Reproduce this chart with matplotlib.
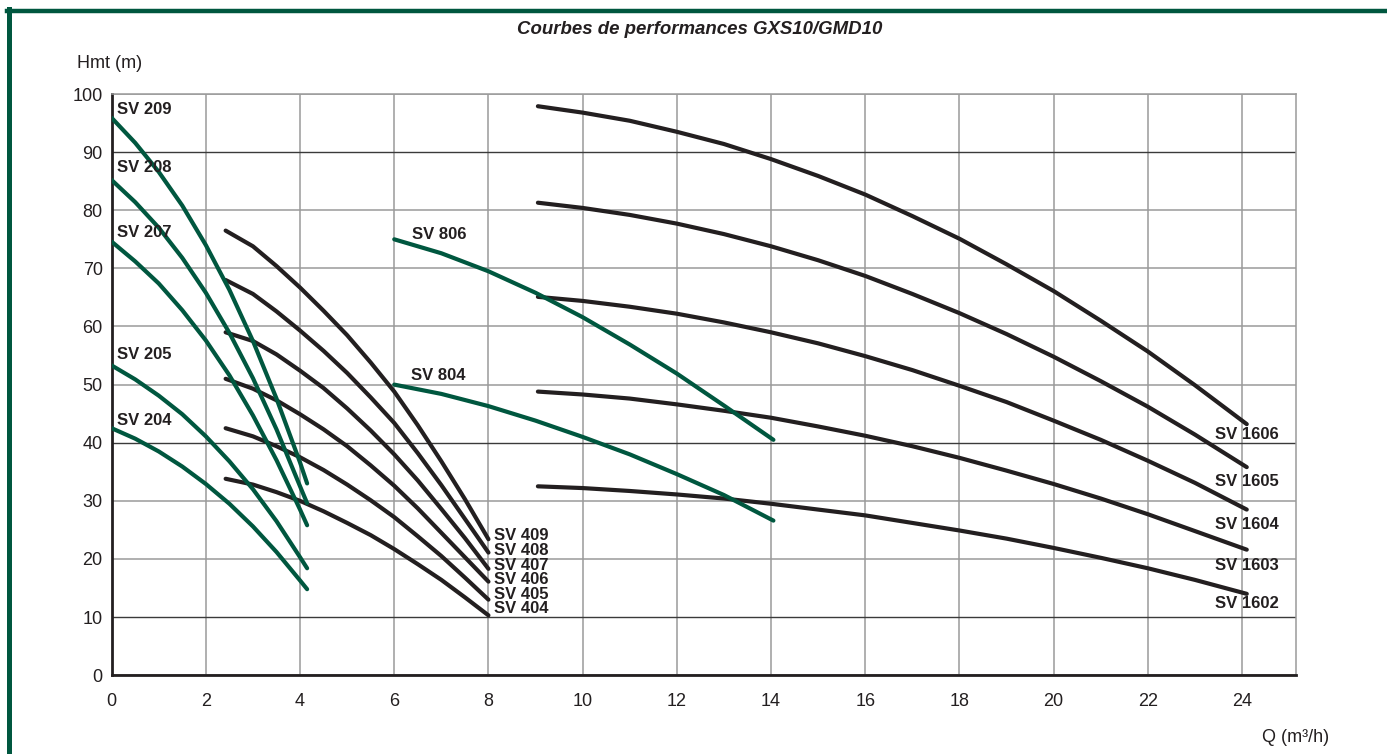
import matplotlib
matplotlib.use("Agg")
import matplotlib.pyplot as plt
from matplotlib.lines import Line2D

plt.rcParams['font.family'] = ['Liberation Sans', 'DejaVu Sans']

GREEN = '#00573f'
BLACK = '#231f20'
GRID = '#9a9a9a'

# --- SV 2xx (green), Q in m3/h, Hmt in m
q_2xx = [0, 0.5, 1, 1.5, 2, 2.5, 3, 3.5, 4, 4.15]
h_sv209 = [95.9, 91.6, 86.6, 80.8, 74.0, 66.3, 57.5, 47.6, 36.6, 33.0]
h_sv208 = [85.2, 81.4, 77.0, 71.8, 65.8, 58.9, 51.1, 42.3, 32.5, 29.6]
h_sv207 = [74.6, 71.2, 67.4, 62.8, 57.6, 51.6, 44.7, 37.0, 28.5, 25.8]
h_sv205 = [53.3, 50.9, 48.1, 44.9, 41.1, 36.8, 32.0, 26.5, 20.3, 18.4]
h_sv204 = [42.5, 40.7, 38.5, 35.9, 32.9, 29.5, 25.6, 21.2, 16.3, 14.8]

# --- SV 4xx (black)
q_4xx = [2.42, 3, 3.5, 4, 4.5, 5, 5.5, 6, 6.5, 7, 7.5, 8]
h_sv409 = [76.5, 73.8, 70.4, 66.7, 62.7, 58.5, 53.8, 48.8, 43.0, 36.8, 30.3, 23.4]
h_sv408 = [68.0, 65.6, 62.6, 59.3, 55.8, 52.0, 47.8, 43.4, 38.2, 32.7, 26.9, 21.1]
h_sv407 = [59.0, 57.5, 55.2, 52.4, 49.4, 45.9, 42.1, 38.0, 33.5, 28.6, 23.6, 18.3]
h_sv406 = [51.0, 49.3, 47.3, 44.9, 42.3, 39.4, 36.1, 32.6, 28.7, 24.5, 20.3, 16.1]
h_sv405 = [42.5, 41.1, 39.4, 37.5, 35.3, 32.8, 30.1, 27.2, 23.9, 20.5, 16.8, 13.0]
h_sv404 = [33.8, 32.8, 31.5, 30.0, 28.2, 26.2, 24.1, 21.7, 19.1, 16.4, 13.4, 10.3]

# --- SV 8xx (green)
q_8xx = [6, 7, 8, 9, 10, 11, 12, 13, 14.05]
h_sv806 = [75.0, 72.6, 69.5, 65.8, 61.6, 56.9, 51.9, 46.4, 40.5]
h_sv804 = [50.0, 48.4, 46.3, 43.8, 41.0, 38.0, 34.6, 31.0, 26.6]

# --- SV 16xx (black)
q_16xx = [9.05, 10, 11, 12, 13, 14, 15, 16, 17, 18, 19, 20, 21, 22, 23, 24.1]
h_sv1606 = [97.9, 96.8, 95.4, 93.5, 91.4, 88.8, 85.9, 82.7, 79.0, 75.1, 70.7, 66.1, 61.0, 55.7, 49.9, 43.2]
h_sv1605 = [81.3, 80.4, 79.2, 77.7, 75.9, 73.8, 71.4, 68.7, 65.6, 62.3, 58.7, 54.8, 50.6, 46.2, 41.4, 35.8]
h_sv1604 = [65.1, 64.4, 63.4, 62.2, 60.7, 59.0, 57.1, 54.9, 52.5, 49.8, 47.0, 43.8, 40.5, 36.9, 33.1, 28.5]
h_sv1603 = [48.8, 48.3, 47.6, 46.6, 45.5, 44.3, 42.8, 41.2, 39.4, 37.4, 35.2, 32.9, 30.4, 27.7, 24.8, 21.6]
h_sv1602 = [32.5, 32.2, 31.7, 31.1, 30.4, 29.5, 28.5, 27.5, 26.2, 24.9, 23.5, 21.9, 20.2, 18.4, 16.4, 14.0]

# curve labels: text, x, y
labels_2xx = [('SV 209', 0.12, 97.3), ('SV 208', 0.12, 87.3), ('SV 207', 0.12, 76.2),
              ('SV 205', 0.12, 55.2), ('SV 204', 0.12, 43.9)]
labels_8xx = [('SV 806', 6.38, 75.8), ('SV 804', 6.35, 51.5)]
labels_4xx = [('SV 409', 8.12, 24.0), ('SV 408', 8.12, 21.4), ('SV 407', 8.12, 18.8),
              ('SV 406', 8.12, 16.4), ('SV 405', 8.12, 13.9), ('SV 404', 8.12, 11.4)]
labels_16xx = [('SV 1606', 23.43, 41.5), ('SV 1605', 23.43, 33.4), ('SV 1604', 23.43, 26.0),
               ('SV 1603', 23.43, 18.8), ('SV 1602', 23.43, 12.3)]

x_ticks = list(range(0, 25, 2))
y_ticks = list(range(0, 101, 10))

fig = plt.figure(figsize=(13.87, 7.54), dpi=100)
ax = fig.add_axes([0.0805, 0.1045, 0.8537, 0.7708])
ax.set_xlim(0, 25.14)
ax.set_ylim(0, 100)
ax.set_xticks(x_ticks)
ax.set_yticks(y_ticks)
ax.tick_params(length=0, labelsize=13, colors=BLACK)
ax.tick_params(axis='x', pad=13)
ax.tick_params(axis='y', pad=6.5)

ax.grid(True, color=GRID, lw=1.1)
ax.set_axisbelow(True)
for v, gl in zip(y_ticks, ax.yaxis.get_gridlines()):
    if v in (10, 40, 90):
        gl.set_color('#3a3a3a')
        gl.set_linewidth(1.0)

for s in ('top', 'right'):
    ax.spines[s].set_color(GRID)
    ax.spines[s].set_linewidth(1.1)
for s in ('left', 'bottom'):
    ax.spines[s].set_color(BLACK)
    ax.spines[s].set_linewidth(2)

lw = 3.0
for h in [h_sv409, h_sv408, h_sv407, h_sv406, h_sv405, h_sv404]:
    ax.plot(q_4xx, h, color=BLACK, lw=lw, solid_capstyle='round', zorder=3)
for h in [h_sv1606, h_sv1605, h_sv1604, h_sv1603, h_sv1602]:
    ax.plot(q_16xx, h, color=BLACK, lw=lw, solid_capstyle='round', zorder=3)
for h in [h_sv204, h_sv205, h_sv207, h_sv208, h_sv209]:
    ax.plot(q_2xx, h, color=GREEN, lw=lw, solid_capstyle='round', zorder=4)
for h in [h_sv804, h_sv806]:
    ax.plot(q_8xx, h, color=GREEN, lw=lw, solid_capstyle='round', zorder=4)

for txt, x, y in labels_2xx + labels_8xx + labels_4xx + labels_16xx:
    ax.text(x, y, txt, fontsize=12, fontweight='bold', color=BLACK,
            ha='left', va='center', zorder=5)

fig.text(0.5045, 1 - 30 / 754, 'Courbes de performances GXS10/GMD10',
         fontsize=13.4, fontweight='bold', fontstyle='italic', color=BLACK,
         ha='center', va='center')
fig.text(77 / 1387, 1 - 64 / 754, 'Hmt (m)', fontsize=13, color=BLACK,
         ha='left', va='center')
fig.text(1262 / 1387, 1 - 737 / 754, 'Q (m³/h)', fontsize=13, color=BLACK,
         ha='left', va='center')

# green frame (top and left edges)
fig.add_artist(Line2D([7 / 1387, 1], [1 - 10.5 / 754] * 2, transform=fig.transFigure,
                      color=GREEN, lw=3.2))
fig.add_artist(Line2D([9.2 / 1387] * 2, [0, 1 - 8.5 / 754], transform=fig.transFigure,
                      color=GREEN, lw=3.6))

fig.savefig('out.png', dpi=100)
